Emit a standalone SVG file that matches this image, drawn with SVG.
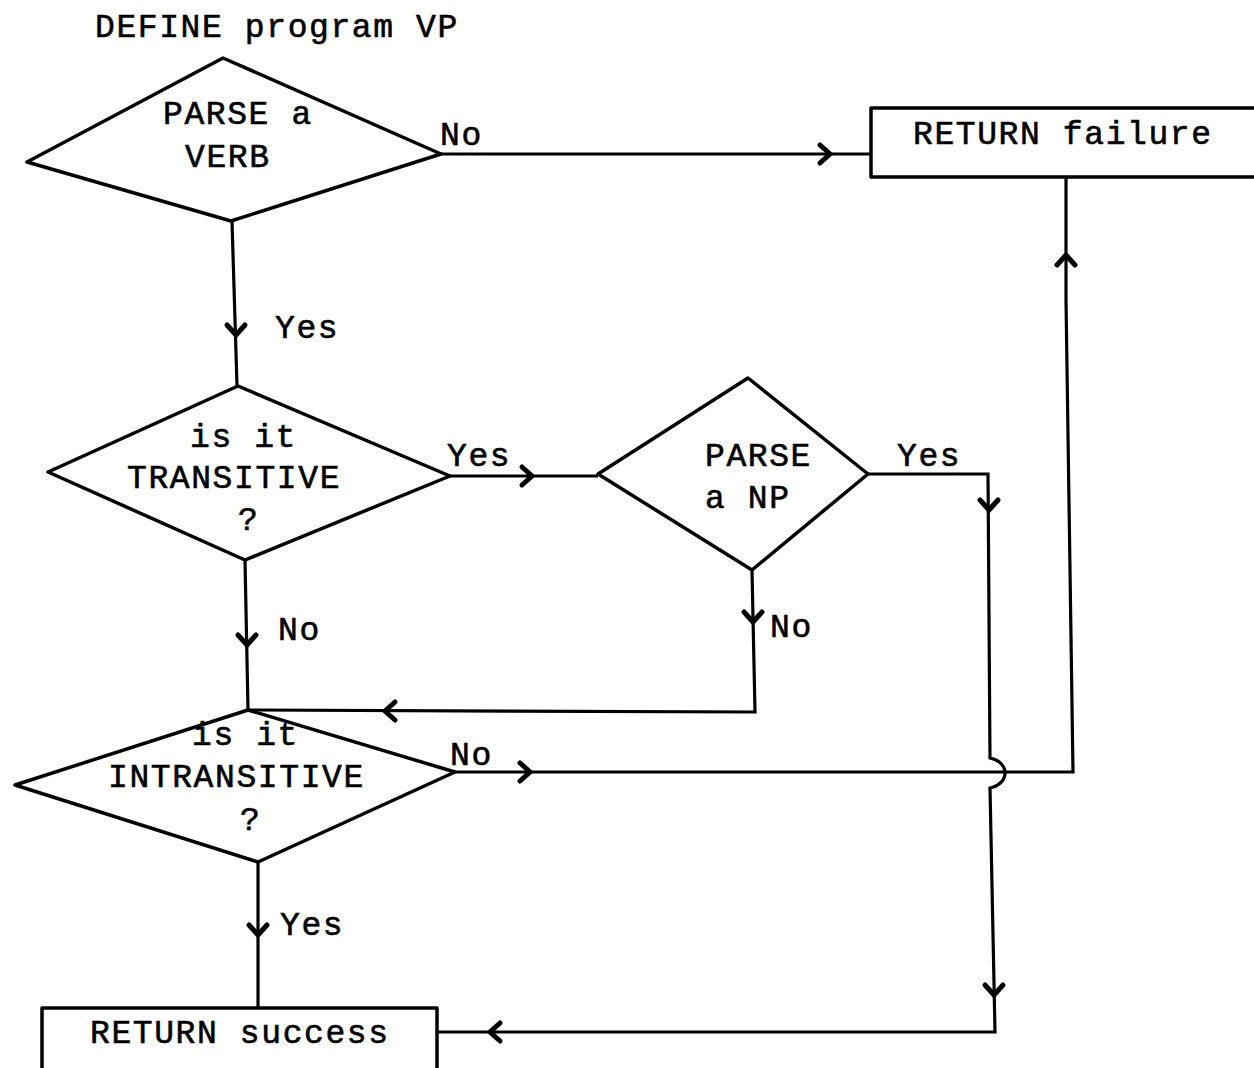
<svg xmlns="http://www.w3.org/2000/svg" xmlns:xlink="http://www.w3.org/1999/xlink" width="1254" height="1068" viewBox="0 0 1254 1068">
<style>
text{font-family:"Liberation Mono","Courier New",monospace;font-size:33px;letter-spacing:1.6px;fill:#000;stroke:#000;stroke-width:0.6}
.shape{fill:none;stroke:#000;stroke-width:3.5;stroke-linejoin:round}
.line{fill:none;stroke:#000;stroke-width:3.2}
.ah{fill:none;stroke:#000;stroke-width:5;stroke-linecap:round;stroke-linejoin:miter}
</style>
<defs>
<path id="ah" class="ah" d="M-10,-9 L0,0 L-10,9"/>
</defs>
<rect width="1254" height="1068" fill="#fff"/>
<text x="95" y="37">DEFINE program VP</text>

<g id="connectors">
<path class="line" d="M441,154 L871,154"/>
<use xlink:href="#ah" transform="translate(830,154)"/>
<path class="line" d="M232,221 L237,386"/>
<use xlink:href="#ah" transform="translate(236,335) rotate(90)"/>
<path class="line" d="M1066,177 L1066,300 L1073,772 L455,772"/>
<use xlink:href="#ah" transform="translate(1066,255) rotate(-90)"/>
<use xlink:href="#ah" transform="translate(530,772)"/>
<path class="line" d="M450,476 L598,476"/>
<use xlink:href="#ah" transform="translate(532,476)"/>
<path class="line" d="M868,474 L988,474 L990,758 C1010,762 1010,784 990,788 L995,1032 L437,1032"/>
<use xlink:href="#ah" transform="translate(989,510) rotate(90)"/>
<use xlink:href="#ah" transform="translate(994,995) rotate(90)"/>
<use xlink:href="#ah" transform="translate(490,1032) rotate(180)"/>
<path class="line" d="M752,570 L755,712 L248,710"/>
<use xlink:href="#ah" transform="translate(753,622) rotate(90)"/>
<use xlink:href="#ah" transform="translate(385,711) rotate(180)"/>
<path class="line" d="M245,560 L248,710"/>
<use xlink:href="#ah" transform="translate(247,645) rotate(90)"/>
<path class="line" d="M258,862 L258,1008"/>
<use xlink:href="#ah" transform="translate(258,935) rotate(90)"/>
</g>

<g id="n1">
<polygon class="shape" points="223,58 441,154 231,221 27,162"/>
<text x="163" y="124">PARSE a</text>
<text x="185" y="167">VERB</text>
</g>
<g id="n2">
<rect class="shape" x="871" y="108" width="400" height="69"/>
<text x="913" y="144">RETURN failure</text>
</g>
<g id="n3">
<polygon class="shape" points="238,386 450,476 245,560 48,472"/>
<text x="190" y="447">is it</text>
<text x="127" y="488">TRANSITIVE</text>
<text x="238" y="530">?</text>
</g>
<g id="n4">
<polygon class="shape" points="748,378 868,474 752,570 598,474"/>
<text x="705" y="466">PARSE</text>
<text x="705" y="508">a NP</text>
</g>
<g id="n5">
<polygon class="shape" points="248,710 455,772 258,862 15,785"/>
<text x="192" y="745">is it</text>
<text x="108" y="787">INTRANSITIVE</text>
<text x="240" y="830">?</text>
</g>
<g id="n6">
<rect class="shape" x="42" y="1008" width="395" height="80"/>
<text x="90" y="1043">RETURN success</text>
</g>

<g id="labels">
<text x="440" y="145">No</text>
<text x="275" y="338">Yes</text>
<text x="447" y="466">Yes</text>
<text x="897" y="466">Yes</text>
<text x="278" y="640">No</text>
<text x="770" y="637">No</text>
<text x="450" y="765">No</text>
<text x="280" y="935">Yes</text>
</g>
</svg>
